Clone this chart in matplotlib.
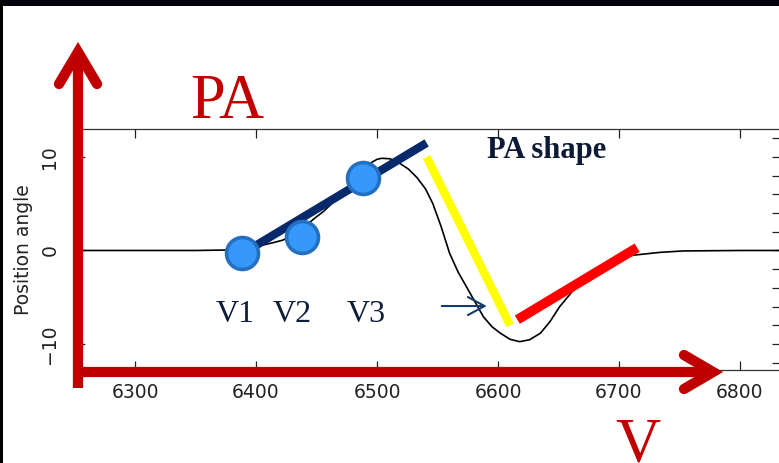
import matplotlib
matplotlib.use("Agg")
import matplotlib.pyplot as plt
from matplotlib.lines import Line2D
from matplotlib.patches import Rectangle
from matplotlib.ticker import MultipleLocator

# ---------------- data ----------------
velocity = [6250, 6300, 6350, 6375, 6390, 6403, 6413, 6422, 6435, 6447, 6456,
            6464, 6472, 6480, 6488, 6494, 6500, 6504, 6511, 6519, 6526, 6533,
            6540, 6546, 6553, 6560, 6567, 6574, 6581, 6588, 6595, 6602, 6610,
            6618, 6626, 6635, 6643, 6651, 6660, 6668, 6679, 6690, 6701, 6712,
            6734, 6753, 6800, 6840]
position_angle = [0, 0, 0, 0.05, 0.2, 0.5, 0.8, 1.1, 1.9, 3.3, 4.2,
                  5.2, 6.2, 7.3, 8.5, 9.3, 9.75, 9.86, 9.8, 9.3, 8.7, 7.8,
                  6.6, 5.05, 2.55, -0.3, -2.3, -3.9, -5.5, -7.1, -8.15, -8.85, -9.5,
                  -9.75, -9.55, -8.85, -7.6, -6.0, -4.6, -3.4, -2.3, -1.37, -0.84, -0.5,
                  -0.2, -0.05, 0, 0]

v_point_labels = ["V1", "V2", "V3"]
v_point_x = [6388, 6438, 6488]
v_point_y = [-0.3, 1.4, 7.75]
v_label_x = [6383, 6430, 6491]
v_label_y = -7.65

rise_x = [6393, 6541]          # navy segment
rise_y = [0.0, 11.5]
fall_x = [6541, 6610]          # yellow segment
fall_y = [10.0, -8.0]
recover_x = [6616, 6715]       # red segment
recover_y = [-7.4, 0.3]

pointer_tail = (6553.5, -5.94)
pointer_tip = (6590.7, -5.94)

x_ticks = [6300, 6400, 6500, 6600, 6700, 6800]
y_ticks = [-10, 0, 10]

# ---------------- figure ----------------
W, H = 779, 463
fig = plt.figure(figsize=(W / 100, H / 100), dpi=100)
fig.patch.set_facecolor("white")


def px(x, y):
    return (x / W, 1 - y / H)


# slide background pieces (black band top, thin strip left)
fig.add_artist(Rectangle((0, 1 - 6 / H), 1, 6 / H, transform=fig.transFigure,
                         facecolor="#02030a", edgecolor="none", zorder=0))
fig.add_artist(Rectangle((0, 0), 3 / W, 1, transform=fig.transFigure,
                         facecolor="black", edgecolor="none", zorder=0))

ax_l, ax_r, ax_t, ax_b = 76, 781, 129, 370
ax = fig.add_axes([ax_l / W, 1 - ax_b / H, (ax_r - ax_l) / W, (ax_b - ax_t) / H])
ax.set_facecolor("white")

ax.plot(velocity, position_angle, color="black", lw=1.2, zorder=2,
        solid_joinstyle="round")

ax.set_xlim(6251.2, 6833.9)
ax.set_ylim(-12.78, 12.99)
ax.set_xticks(x_ticks)
ax.set_yticks(y_ticks)
ax.yaxis.set_minor_locator(MultipleLocator(2))
ax.tick_params(which="major", direction="in", length=6.2, width=0.9,
               top=True, right=True, labelsize=13.5, colors="#222222")
ax.tick_params(axis="x", which="major", pad=9)
ax.tick_params(axis="y", which="major", pad=12)
ax.tick_params(axis="y", which="minor", direction="in", length=6.2, width=0.9,
               left=False, right=True, colors="#222222")
ax.tick_params(axis="x", which="minor", bottom=False, top=False)
for lab in ax.get_yticklabels():
    lab.set_rotation(90)
    lab.set_va("center")
for s in ax.spines.values():
    s.set_linewidth(0.9)
    s.set_color("#333333")

ax.set_ylabel("Position angle", fontsize=13.5, color="#222222")
ax.yaxis.set_label_coords(-0.061, 0.5)

# overlays
ax.plot(rise_x, rise_y, color="#05296b", lw=6, solid_capstyle="butt",
        zorder=3, clip_on=False)
ax.plot(fall_x, fall_y, color="#ffff00", lw=6, solid_capstyle="butt",
        zorder=3, clip_on=False)
ax.plot(recover_x, recover_y, color="#ff0000", lw=7, solid_capstyle="butt",
        zorder=3, clip_on=False)
ax.plot(v_point_x, v_point_y, linestyle="none", marker="o", markersize=23,
        markerfacecolor="#3598fa", markeredgecolor="#2470c0",
        markeredgewidth=2.6, zorder=4, clip_on=False)

for lab, lx in zip(v_point_labels, v_label_x):
    ax.text(lx, v_label_y, lab, ha="center", va="baseline",
            family="Liberation Serif", fontsize=23, color="#0b1e3b", zorder=5)

ax.text(6590.9, 9.9, "PA shape", ha="left", va="baseline",
        family="Liberation Serif", fontweight="bold", fontsize=22,
        color="#0b1a36", zorder=5)

ax.annotate("", xy=pointer_tip, xytext=pointer_tail,
            arrowprops=dict(arrowstyle="->,head_length=1.2,head_width=0.65",
                            color="#143c6e", lw=1.5, shrinkA=0, shrinkB=0),
            zorder=5)

# big red axis arrows (figure pixel geometry)
red = "#c00000"
lw_big = 7.4


def fline(pts, **kw):
    xs = [p[0] / W for p in pts]
    ys = [1 - p[1] / H for p in pts]
    ln = Line2D(xs, ys, transform=fig.transFigure, color=red, lw=lw_big,
                zorder=10, **kw)
    fig.add_artist(ln)


fline([(78, 388), (78, 52)], solid_capstyle="butt")
fline([(59, 84), (78, 52), (97, 84)], solid_capstyle="round",
      solid_joinstyle="miter")
fline([(73, 372), (712, 372)], solid_capstyle="butt")
fline([(684, 355), (713, 372), (684, 389)], solid_capstyle="round",
      solid_joinstyle="miter")

fig.text(*px(227, 118), "PA", ha="center", va="baseline",
         family="Liberation Serif", fontsize=45, color=red, zorder=11)
fig.text(*px(638, 461), "V", ha="center", va="baseline",
         family="Liberation Serif", fontsize=45, color=red, zorder=11)

fig.savefig("out.png", dpi=100)
